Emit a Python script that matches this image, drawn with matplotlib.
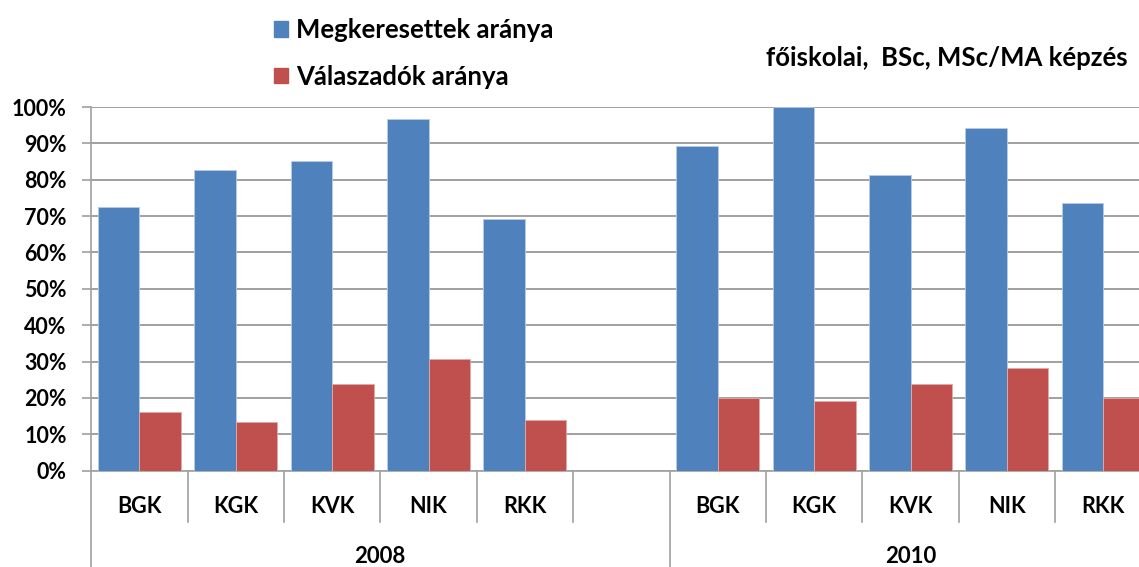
import numpy as np
import matplotlib
matplotlib.use("Agg")
import matplotlib.pyplot as plt
from matplotlib.patches import Patch

# ── Data ────────────────────────────────────────────────────
karok = ["BGK", "KGK", "KVK", "NIK", "RKK"]
evek = ["2008", "2010"]

megkeresett_2008 = [72.5, 82.8, 85.2, 96.8, 69.1]
megkeresett_2010 = [89.4, 100.0, 81.4, 94.2, 73.7]
valaszado_2008 = [16.2, 13.5, 23.9, 30.8, 13.9]
valaszado_2010 = [19.9, 19.2, 23.9, 28.2, 19.9]

y_ticks = list(range(0, 101, 10))

BLUE = "#4F81BD"
RED = "#C0504D"
GRID = "#a0a0a0"
FONT = ["Lato", "DejaVu Sans"]

plt.rcParams["font.family"] = FONT
plt.rcParams["font.weight"] = "bold"

# slot layout: 2008 has an empty slot after RKK, then 2010
n = len(karok)
pos_2008 = np.arange(n)
pos_2010 = np.arange(n) + n + 1
n_slots = 2 * n + 1

fig = plt.figure(figsize=(11.39, 5.67), dpi=100)
ax = fig.add_axes([91.1 / 1139, 96.3 / 567, 1060.4 / 1139, 363.7 / 567])

bw = 0.43
ax.bar(pos_2008 - bw / 2, megkeresett_2008, bw, color=BLUE, zorder=3, edgecolor="#b9cbe6", linewidth=0.6)
ax.bar(pos_2010 - bw / 2, megkeresett_2010, bw, color=BLUE, zorder=3, edgecolor="#b9cbe6", linewidth=0.6)
ax.bar(pos_2008 + bw / 2, valaszado_2008, bw, color=RED, zorder=3, edgecolor="#e2a9a8", linewidth=0.6)
ax.bar(pos_2010 + bw / 2, valaszado_2010, bw, color=RED, zorder=3, edgecolor="#e2a9a8", linewidth=0.6)

ax.set_xlim(-0.5, n_slots - 0.5)
ax.set_ylim(0, 100)
ax.set_yticks(y_ticks)
ax.set_yticklabels([f"{t}%" for t in y_ticks], fontsize=15.5, fontweight="bold")
ax.tick_params(axis="y", length=6.5, width=1.2, color=GRID, pad=11)
ax.yaxis.grid(True, color=GRID, linewidth=1.4, zorder=0)
ax.set_xticks([])

for s in ["top", "right"]:
    ax.spines[s].set_visible(False)
for s in ["left", "bottom"]:
    ax.spines[s].set_color(GRID)
    ax.spines[s].set_linewidth(1.2)

# x-axis: category separators, labels, year labels
trans = ax.get_xaxis_transform()
short_len = -51 / 363.7
long_len = -110 / 363.7
group_edges = [-0.5, n + 0.5, n_slots - 0.5]
for b in np.arange(n_slots + 1) - 0.5:
    low = long_len if b in group_edges else short_len
    ax.plot([b, b], [0, low], transform=trans, color=GRID, lw=1.2, clip_on=False)

for p_arr in (pos_2008, pos_2010):
    for p, lab in zip(p_arr, karok):
        ax.text(p, -36 / 363.7, lab, transform=trans, ha="center", va="center",
                fontsize=15.5, fontweight="bold")

centers = [(group_edges[0] + group_edges[1]) / 2, (group_edges[1] + group_edges[2]) / 2]
for c, ev in zip(centers, evek):
    ax.text(c, -86 / 363.7, ev, transform=trans, ha="center", va="center",
            fontsize=16, fontweight="bold")

# legend
handles = [Patch(color=BLUE, label="Megkeresettek aránya"),
           Patch(color=RED, label="Válaszadók aránya")]
fig.legend(handles=handles, loc="upper left", bbox_to_anchor=(273.6 / 1139, 1 - 18 / 567),
           frameon=False, prop={"size": 18.5, "weight": "bold"}, borderpad=0, borderaxespad=0,
           handlelength=0.55, handleheight=0.55, handletextpad=0.34, labelspacing=0.88)

fig.text(1128 / 1139, 1 - 58 / 567, "főiskolai,  BSc, MSc/MA képzés", ha="right", va="center",
         fontsize=18.5, fontweight="bold")

fig.savefig("out.png", dpi=100)
